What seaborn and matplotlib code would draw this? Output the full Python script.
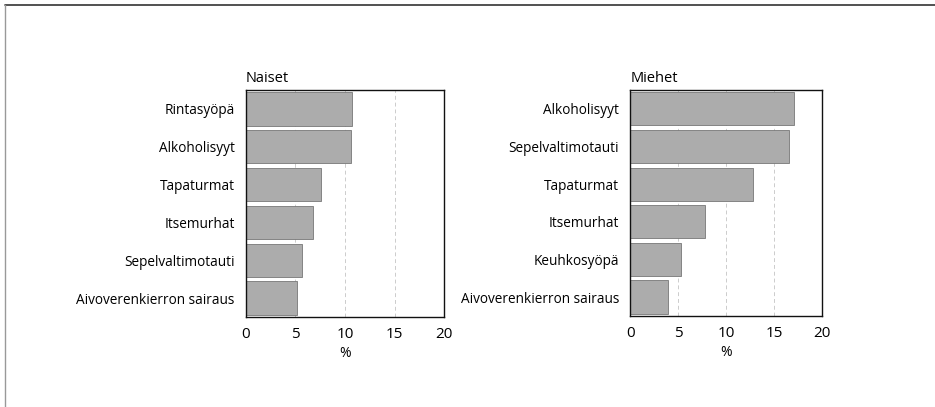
import matplotlib
matplotlib.use("Agg")
import matplotlib.pyplot as plt
import pandas as pd
import seaborn as sns
from matplotlib.lines import Line2D

# Naiset (women)
naiset_syyt = ["Rintasyöpä", "Alkoholisyyt", "Tapaturmat", "Itsemurhat",
               "Sepelvaltimotauti", "Aivoverenkierron sairaus"]
naiset_pros = [10.7, 10.6, 7.6, 6.8, 5.7, 5.2]

# Miehet (men)
miehet_syyt = ["Alkoholisyyt", "Sepelvaltimotauti", "Tapaturmat", "Itsemurhat",
               "Keuhkosyöpä", "Aivoverenkierron sairaus"]
miehet_pros = [17.1, 16.6, 12.8, 7.8, 5.3, 3.9]

x_ticks = [0, 5, 10, 15, 20]

sns.set_style("white")
plt.rcParams['font.family'] = ['Open Sans', 'DejaVu Sans']

fig = plt.figure(figsize=(9.35, 4.07), dpi=100)

# kehysviivat: yläreuna tumma, vasen reuna harmaa
fig.add_artist(Line2D([5 / 935, 1.0], [1 - 5 / 407, 1 - 5 / 407], transform=fig.transFigure,
                      color="#333333", linewidth=1.2))
fig.add_artist(Line2D([5 / 935, 5 / 935], [0.0, 1 - 5 / 407], transform=fig.transFigure,
                      color="#999999", linewidth=1.0))

ax1 = fig.add_axes([0.263, 0.221, 0.212, 0.558])
ax2 = fig.add_axes([0.674, 0.224, 0.205, 0.555])


def piirra(ax, syyt, arvot, otsikko):
    df = pd.DataFrame({"syy": syyt, "pros": arvot})
    for v in [5, 10, 15]:
        ax.axvline(v, color="#cccccc", linestyle=(0, (4, 3)), linewidth=0.7, zorder=0.5)
    sns.barplot(data=df, x="pros", y="syy", orient="h", color="#acacac",
                edgecolor="#777777", linewidth=0.6, width=0.88, saturation=1, ax=ax)
    for p in ax.patches:
        p.set_zorder(2)
    ax.set_xlim(0, 20)
    ax.set_xticks(x_ticks)
    ax.set_xticklabels([str(t) for t in x_ticks], fontsize=11, color="black")
    ax.set_xlabel("%", fontsize=10, labelpad=3, color="black")
    ax.set_ylabel("")
    ax.tick_params(axis="x", length=0, pad=7, labelcolor="black")
    ax.tick_params(axis="y", length=0, pad=8, labelsize=9.8, labelcolor="black")
    for s in ax.spines.values():
        s.set_visible(True)
        s.set_color("#111111")
        s.set_linewidth(1.0)
    ax.set_title(otsikko, loc="left", fontsize=10.5, pad=6, color="black")


piirra(ax1, naiset_syyt, naiset_pros, "Naiset")
piirra(ax2, miehet_syyt, miehet_pros, "Miehet")

fig.savefig("out.png", dpi=100)
